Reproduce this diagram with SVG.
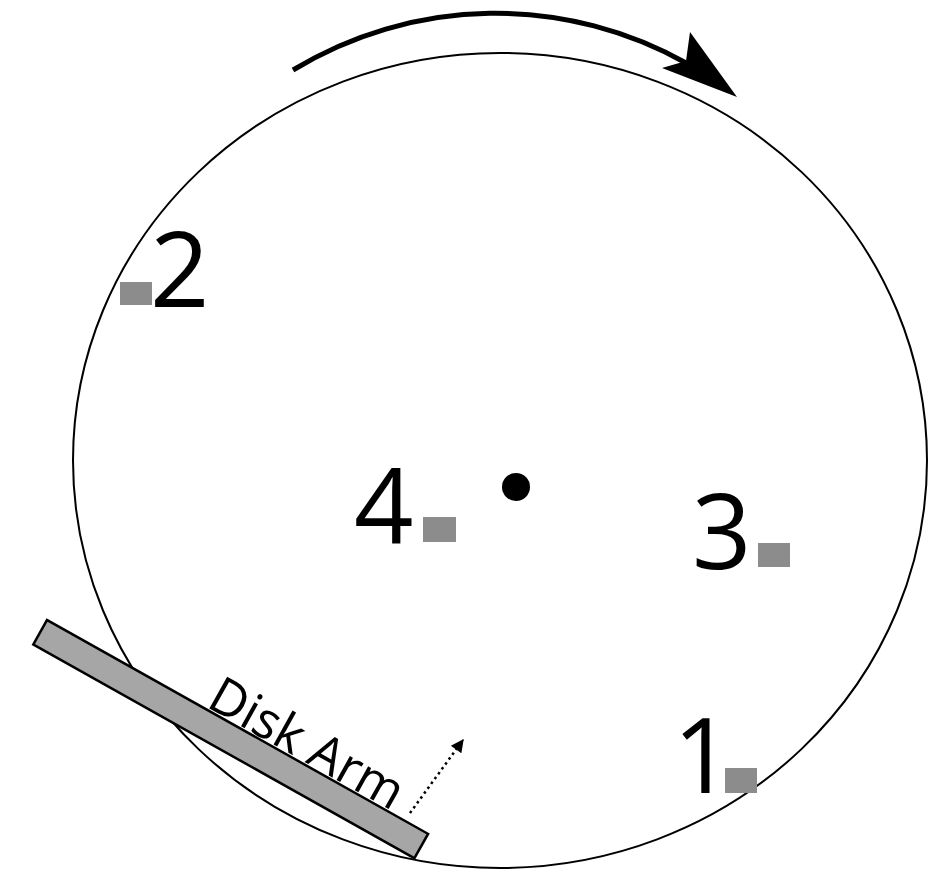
<svg xmlns="http://www.w3.org/2000/svg" width="930" height="875" viewBox="0 0 930 875">
<style>
.num{font-family:"Open Sans","Liberation Sans",sans-serif;font-size:104px;fill:#000}
.pt{fill:#8c8c8c}
</style>
<defs>
<marker id="dotHead" viewBox="0 0 10 10" refX="9" refY="5" markerWidth="15" markerHeight="13" orient="auto" markerUnits="userSpaceOnUse">
<path d="M0,0 L10,5 L0,10 Z" fill="#000"/>
</marker>
</defs>
<rect width="930" height="875" fill="#fff"/>
<g id="disk">
<ellipse cx="500" cy="460.5" rx="427" ry="407.5" fill="none" stroke="#000" stroke-width="2"/>
<circle cx="516" cy="487" r="14" fill="#000"/>
</g>
<g id="rotation">
<path d="M293,70 A390,390 0 0 1 688,64" fill="none" stroke="#000" stroke-width="5"/>
<polygon points="690,32 737,97 662,68 686,61" fill="#000"/>
</g>
<g id="sector2"><rect class="pt" x="120" y="282" width="32" height="23"/><text class="num" x="150" y="307">2</text></g>
<g id="sector4"><rect class="pt" x="423" y="517" width="33" height="25"/><text class="num" x="354" y="543">4</text></g>
<g id="sector3"><rect class="pt" x="758" y="543" width="32" height="24"/><text class="num" x="692" y="569">3</text></g>
<g id="sector1"><rect class="pt" x="725" y="768" width="32" height="25"/><text class="num" x="673" y="793">1</text></g>
<g id="arm">
<rect x="0" y="0" width="437" height="28" transform="translate(47,620) rotate(29.3)" fill="#a6a6a6" stroke="#000" stroke-width="2.5"/>
<text transform="translate(205,706) rotate(29.3)" font-family="'Open Sans','Liberation Sans',sans-serif" font-size="51" fill="#000">Disk Arm</text>
</g>
<g id="connectors">
<line x1="410" y1="813" x2="463" y2="740" stroke="#000" stroke-width="2.5" stroke-dasharray="2.5,3.5" marker-end="url(#dotHead)"/>
</g>
</svg>
